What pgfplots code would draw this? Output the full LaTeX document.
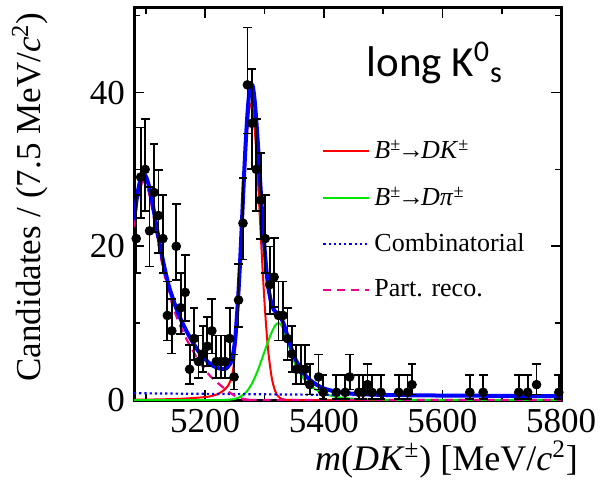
\documentclass[border=0pt]{standalone}
\usepackage{fontspec}
\setmainfont{Liberation Serif}
\newfontfamily\carlito{Carlito}
\usepackage{pgfplots}
\usepackage{pgfplotstable}
\pgfplotsset{compat=1.18}

% Binned candidates: bin centre, count, lower and upper (Poisson) errors
\pgfplotstableread{
x        y   em    ep
5083.75  21  4.51  5.66
5091.25  29  5.31  6.44
5098.75  30  5.40  6.53
5106.25  22  4.62  5.76
5113.75  27  5.12  6.26
5121.25  24  4.83  5.97
5128.75  21  4.51  5.66
5136.25  11  3.26  4.42
5143.75   9  2.94  4.11
5151.25  20  4.40  5.55
5158.75  12  3.40  4.56
5166.25  14  3.68  4.83
5173.75   4  1.91  3.16
5181.25   8  2.76  3.94
5188.75   5  2.16  3.38
5196.25   6  2.38  3.58
5203.75   7  2.58  3.77
5211.25   9  2.94  4.11
5218.75   5  2.16  3.38
5226.25   5  2.16  3.38
5233.75   5  2.16  3.38
5241.25   8  2.76  3.94
5248.75   3  1.63  2.92
5256.25  13  3.54  4.70
5263.75  23  4.72  5.87
5271.25  41  6.32  7.45
5278.75  36  5.92  7.05
5286.25  30  5.40  6.53
5293.75  26  5.03  6.16
5301.25  21  4.51  5.66
5308.75  15  3.81  4.96
5316.25  16  3.94  5.08
5323.75  11  3.26  4.42
5331.25  11  3.26  4.42
5338.75   8  2.76  3.94
5346.25   6  2.38  3.58
5353.75   4  1.91  3.16
5361.25   4  1.91  3.16
5368.75   4  1.91  3.16
5376.25   2  1.29  2.64
5391.25   3  1.63  2.92
5398.75   1  0.83  2.30
5421.25   1  0.83  2.30
5436.25   1  0.83  2.30
5443.75   3  1.63  2.92
5458.75   1  0.83  2.30
5466.25   1  0.83  2.30
5473.75   2  1.29  2.64
5481.25   1  0.83  2.30
5496.25   1  0.83  2.30
5526.25   1  0.83  2.30
5541.25   1  0.83  2.30
5548.75   2  1.29  2.64
5646.25   1  0.83  2.30
5668.75   1  0.83  2.30
5728.75   1  0.83  2.30
5743.75   1  0.83  2.30
5758.75   2  1.29  2.64
5796.25   1  0.83  2.30
}\datatable

% Fit components
\pgfplotstableread{
x     y
5080  0.03
5117  0.07
5157  0.15
5187  0.30
5207  0.45
5222  0.80
5232  1.30
5237  1.70
5242  2.40
5247  3.88
5250  6.00
5253  8.86
5256  12.5
5259  16.8
5262  21.7
5265  26.7
5268  31.3
5271  35.1
5274  37.6
5277  38.5
5280  37.8
5283  35.7
5286  32.5
5289  28.5
5292  24.1
5295  19.6
5298  15.4
5301  11.6
5304  8.44
5307  5.91
5312  3.00
5317  1.38
5322  0.57
5327  0.21
5337  0.02
5360  0.00
5800  0.00
}\sigDK

\pgfplotstableread{
x     y
5080  0.00
5230  0.00
5240  0.05
5250  0.15
5260  0.45
5270  1.10
5280  2.30
5290  4.10
5300  6.30
5310  8.40
5318  9.70
5324  10.0
5330  9.50
5340  7.30
5350  5.00
5360  3.50
5370  2.40
5380  1.70
5390  1.20
5400  0.85
5420  0.42
5450  0.16
5500  0.04
5550  0.01
5800  0.00
}\sigDpi

\pgfplotstableread{
x     y
5080  0.88
5200  0.80
5300  0.74
5400  0.68
5500  0.62
5600  0.58
5700  0.54
5800  0.50
}\combi

\pgfplotstableread{
x     y
5080  22.5
5085  25.5
5090  27.5
5095  28.4
5100  28.2
5105  27.0
5110  25.2
5115  23.0
5120  20.8
5125  18.7
5130  16.8
5135  15.1
5140  13.6
5150  11.2
5160  9.30
5170  7.70
5180  6.30
5190  5.00
5200  3.90
5210  3.00
5220  2.30
5230  1.65
5240  1.05
5250  0.55
5260  0.22
5270  0.07
5280  0.01
5300  0.00
5800  0.00
}\partreco

\pgfplotstableread{
x     y
5080  23.4
5085  26.4
5090  28.4
5095  29.3
5100  29.1
5105  27.9
5110  26.1
5115  23.9
5120  21.7
5125  19.6
5130  17.7
5135  16.0
5140  14.5
5150  12.2
5160  10.3
5170  8.75
5180  7.40
5190  6.20
5200  5.30
5210  4.60
5220  4.20
5227  4.05
5235  4.10
5240  4.50
5245  5.20
5250  7.50
5253  10.3
5256  13.9
5259  18.2
5262  23.2
5265  28.3
5268  33.0
5271  36.9
5274  39.7
5277  40.9
5280  40.9
5283  39.3
5286  36.6
5289  33.2
5292  29.4
5295  25.6
5298  22.0
5301  18.9
5304  16.3
5307  14.4
5312  12.45
5317  11.6
5322  11.2
5327  10.8
5333  9.80
5340  8.00
5350  5.70
5360  4.20
5370  3.10
5380  2.40
5390  1.90
5400  1.50
5420  1.10
5450  0.81
5500  0.66
5550  0.61
5600  0.58
5700  0.54
5800  0.50
}\total

\begin{document}
\begin{tikzpicture}
\begin{axis}[
  name=ax,
  scale only axis,
  width=213.5pt, height=196pt,
  xmin=5080, xmax=5800,
  ymin=0, ymax=51,
  axis line style={line width=1.5pt},
  xtick={5200,5400,5600,5800},
  xticklabels={5200,5400,5600,5800},
  minor xtick={5100,5300,5500,5700},
  ytick={0,20,40},
  yticklabels={0,20,40},
  minor ytick={10,30,50},
  tick align=inside,
  xtick pos=both, ytick pos=both,
  xticklabel pos=lower, yticklabel pos=left,
  major tick length=5pt, minor tick length=3pt,
  every tick/.style={black, line width=0.8pt},
  tick label style={font=\rmfamily\fontsize{17.5}{17.5}\selectfont},
  xticklabel style={yshift=-1pt},
  yticklabel style={xshift=-1pt},
  legend style={
    at={(rel axis cs:0.44,0.675)}, anchor=north west,
    draw=none, fill=none,
    font=\fontsize{13}{13}\selectfont,
    row sep=8.5pt, inner sep=0pt,
    legend cell align=left,
    /tikz/every even column/.append style={column sep=6pt},
  },
  legend image code/.code={\draw[#1] (0pt,0pt) -- (23pt,0pt);},
  clip=true,
]
\addplot[red, line width=1pt, smooth] table {\sigDK};
\addlegendentry{\textit{B}\textsuperscript{±}\kern-0.12em→\kern-0.12em\textit{DK}\textsuperscript{±}}
\addplot[green!90!black, line width=1pt, smooth] table {\sigDpi};
\addlegendentry{\textit{B}\textsuperscript{±}\kern-0.12em→\kern-0.12em\textit{Dπ}\textsuperscript{±}}
\addplot[blue, line width=1.1pt, dash pattern=on 1.1pt off 1.5pt, smooth] table {\combi};
\addlegendentry{Combinatorial}
\addplot[magenta, line width=1.1pt, dash pattern=on 4pt off 3pt, smooth] table {\partreco};
\addlegendentry{Part. reco.}
\addplot[blue, line width=2pt, smooth, forget plot] table {\total};
\addplot[black, only marks, mark=*, mark size=2.2pt, forget plot,
  error bars/.cd, y dir=both, y explicit,
  error bar style={line width=0.9pt},
  error mark options={rotate=90, mark size=2.2pt, line width=0.9pt}]
  table[x=x, y=y, y error plus=ep, y error minus=em] {\datatable};
\node[anchor=base west, font=\carlito\fontsize{21.5}{21.5}\selectfont]
  at (rel axis cs:0.528,0.825) {long K\textsuperscript{0}\textsubscript{s}};
\end{axis}
\node[rotate=90, font=\fontsize{17.5}{17.5}\selectfont]
  at ([xshift=-52pt, yshift=3.5pt]ax.west) {Candidates / (7.5 MeV/\textit{c}\textsuperscript{2})};
\node[anchor=base east, font=\fontsize{18}{18}\selectfont]
  at ([xshift=12pt, yshift=-35pt]ax.south east) {\textit{m}(\textit{DK}\textsuperscript{±}) [MeV/\textit{c}\textsuperscript{2}]};
\pgfresetboundingbox
\path ([xshift=-67pt, yshift=-42.5pt]ax.south west) rectangle ([xshift=20pt, yshift=4pt]ax.north east);
\end{tikzpicture}
\end{document}
